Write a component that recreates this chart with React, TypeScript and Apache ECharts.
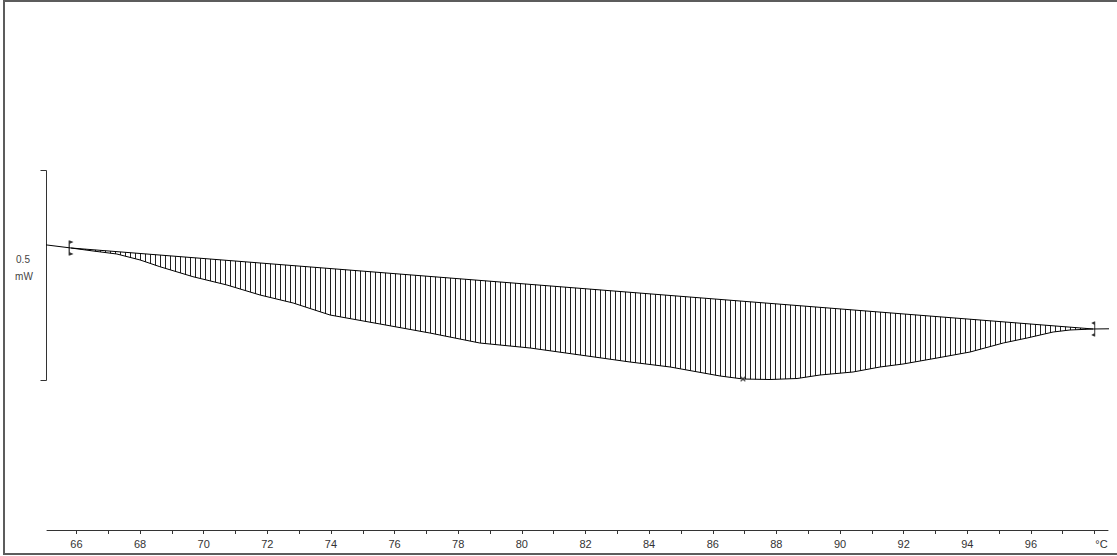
import React, { useEffect, useRef } from "react";
import * as echarts from "echarts";

// Measured DSC curve: temperature (°C) and heat flow (mW)
const tempC = [63.72, 65.07, 65.83, 66.52, 67.27, 68.0, 68.62, 69.66, 70.73, 71.77, 72.81, 73.97, 75.54, 77.11, 78.68, 80.26, 81.83, 83.4, 84.66, 86.23, 86.95, 87.8, 88.65, 89.37, 90.41, 91.26, 91.98, 93.05, 94.09, 95.13, 95.88, 96.7, 97.23, 97.96, 98.71];
const heatFlowMW = [-0.3095, -0.3214, -0.3286, -0.3357, -0.3429, -0.3571, -0.3731, -0.3969, -0.4167, -0.4405, -0.4595, -0.4881, -0.5095, -0.531, -0.5548, -0.5667, -0.5833, -0.6, -0.6119, -0.6333, -0.6405, -0.6417, -0.6393, -0.631, -0.6238, -0.6119, -0.6048, -0.5905, -0.5762, -0.5548, -0.5429, -0.5286, -0.5238, -0.5214, -0.5207];

// Integration baseline (limits)
const baselineT = [65.83, 97.96];
const baselineV = [-0.3286, -0.5214];

// Peak marker
const peakT = 86.95;
const peakV = -0.6405;

// Scale bar
const scaleBarT = 65.07;
const scaleBarV = [-0.1429, -0.6429];
const scaleBarLabel = ["0.5", "mW"];

// Axis ticks / labels
const tickLabels = [66, 68, 70, 72, 74, 76, 78, 80, 82, 84, 86, 88, 90, 92, 94, 96, 98];
const allTicks = [66, 67, 68, 69, 70, 71, 72, 73, 74, 75, 76, 77, 78, 79, 80, 81, 82, 83, 84, 85, 86, 87, 88, 89, 90, 91, 92, 93, 94, 95, 96, 97, 98];
const unitLabel = "°C";
const xMin = 65.073;
const xMax = 98.424;

const FONT = '"Liberation Sans", Arial, sans-serif';

export default function App() {
  const ref = useRef<HTMLDivElement>(null);

  useEffect(() => {
    document.body.style.margin = "0";
    if (!ref.current) return;
    const chart = echarts.init(ref.current, undefined, { renderer: "svg" });

    const cv = document.createElement("canvas");
    cv.width = 5;
    cv.height = 10;
    const ctx = cv.getContext("2d");
    if (ctx) {
      ctx.fillStyle = "#222222";
      ctx.fillRect(0, 0, 1, 10);
    }
    const hatch: any = { image: cv, repeat: "repeat", imageWidth: 5, imageHeight: 10 };

    const curve = tempC.map((t, i) => [t, heatFlowMW[i]]);
    const areaPts = curve.filter((p) => p[0] >= baselineT[0] && p[0] <= baselineT[1]);

    const option: any = {
      animation: false,
      backgroundColor: "#ffffff",
      grid: { left: 47, right: 9, top: 110, bottom: 26, containLabel: false, outerBoundsMode: "none" },
      xAxis: {
        type: "value",
        min: xMin,
        max: xMax,
        position: "bottom",
        axisLine: { show: true, onZero: false, lineStyle: { color: "#333", width: 1 } },
        axisTick: { show: true, customValues: allTicks, length: 4, lineStyle: { color: "#333" } },
        axisLabel: {
          show: true,
          customValues: tickLabels,
          margin: 8,
          color: "#333",
          fontSize: 11,
          fontFamily: FONT,
          formatter: (v: number) => (v === 98 ? "{u|" + unitLabel + "}" : String(v)),
          rich: { u: { padding: [0, 0, 0, 14], fontSize: 11, fontFamily: FONT, color: "#333" } },
        },
        splitLine: { show: false },
      },
      yAxis: { type: "value", min: -1, max: 0, show: false },
      graphic: [
        {
          type: "rect",
          shape: { x: 4, y: 1, width: 1200, height: 553 },
          style: { fill: "none", stroke: "#5c5c5c", lineWidth: 2 },
          silent: true,
        },
        {
          type: "text",
          x: 23,
          y: 259,
          style: { text: scaleBarLabel[0], textAlign: "center", textVerticalAlign: "middle", font: "10px " + FONT, fill: "#444" },
        },
        {
          type: "text",
          x: 24,
          y: 276,
          style: { text: scaleBarLabel[1], textAlign: "center", textVerticalAlign: "middle", font: "10px " + FONT, fill: "#444" },
        },
      ],
      series: [
        {
          type: "custom",
          coordinateSystem: "cartesian2d",
          clip: false,
          silent: true,
          z: 1,
          data: [[areaPts[0][0], areaPts[0][1]]],
          renderItem: (params: any, api: any) => {
            const pts = areaPts.map((p) => api.coord(p));
            pts.push(api.coord([baselineT[1], baselineV[1]]));
            pts.push(api.coord([baselineT[0], baselineV[0]]));
            return {
              type: "polygon",
              shape: { points: pts },
              style: { fill: hatch, stroke: null },
            };
          },
        },
        {
          type: "custom",
          coordinateSystem: "cartesian2d",
          clip: false,
          silent: true,
          z: 3,
          data: [[scaleBarT, scaleBarV[0]]],
          renderItem: (params: any, api: any) => {
            const top = api.coord([scaleBarT, scaleBarV[0]]);
            const bot = api.coord([scaleBarT, scaleBarV[1]]);
            const x = Math.round(top[0]) - 0.5;
            return {
              type: "polyline",
              shape: {
                points: [
                  [x - 6, Math.round(top[1]) + 0.5],
                  [x, Math.round(top[1]) + 0.5],
                  [x, Math.round(bot[1]) + 0.5],
                  [x - 6, Math.round(bot[1]) + 0.5],
                ],
              },
              style: { stroke: "#333", lineWidth: 1, fill: null },
            };
          },
        },
        {
          type: "line",
          data: curve,
          showSymbol: false,
          symbol: "none",
          clip: false,
          z: 3,
          lineStyle: { color: "#000", width: 1 },
        },
        {
          type: "line",
          data: baselineT.map((t, i) => [t, baselineV[i]]),
          symbol: "none",
          clip: false,
          z: 3,
          lineStyle: { color: "#000", width: 1 },
        },
        {
          type: "scatter",
          clip: false,
          z: 4,
          symbol: "path://M1,0L2,0L2,14L1,14Z M2,0L5,1.5L2,3Z M2,11L5,12.5L2,14Z",
          symbolSize: [5, 15],
          itemStyle: { color: "#000" },
          data: [[baselineT[0], baselineV[0]]],
        },
        {
          type: "scatter",
          clip: false,
          z: 4,
          symbol: "path://M3,0L4,0L4,14L3,14Z M3,0L0,1.5L3,3Z M3,11L0,12.5L3,14Z",
          symbolSize: [4, 15],
          itemStyle: { color: "#000" },
          data: [[baselineT[1], baselineV[1]]],
        },
        {
          type: "scatter",
          clip: false,
          z: 4,
          symbol: "path://M0,0L1,0L5,4L5,5L4,5L0,1Z M4,0L5,0L5,1L1,5L0,5L0,4Z",
          symbolSize: 5,
          itemStyle: { color: "#333" },
          data: [[peakT, peakV]],
        },
      ],
    };

    chart.setOption(option);
    return () => chart.dispose();
  }, []);

  return (
    <div
      ref={ref}
      style={{ position: "fixed", left: 0, top: 0, width: 1117, height: 556, background: "#fff" }}
    />
  );
}
